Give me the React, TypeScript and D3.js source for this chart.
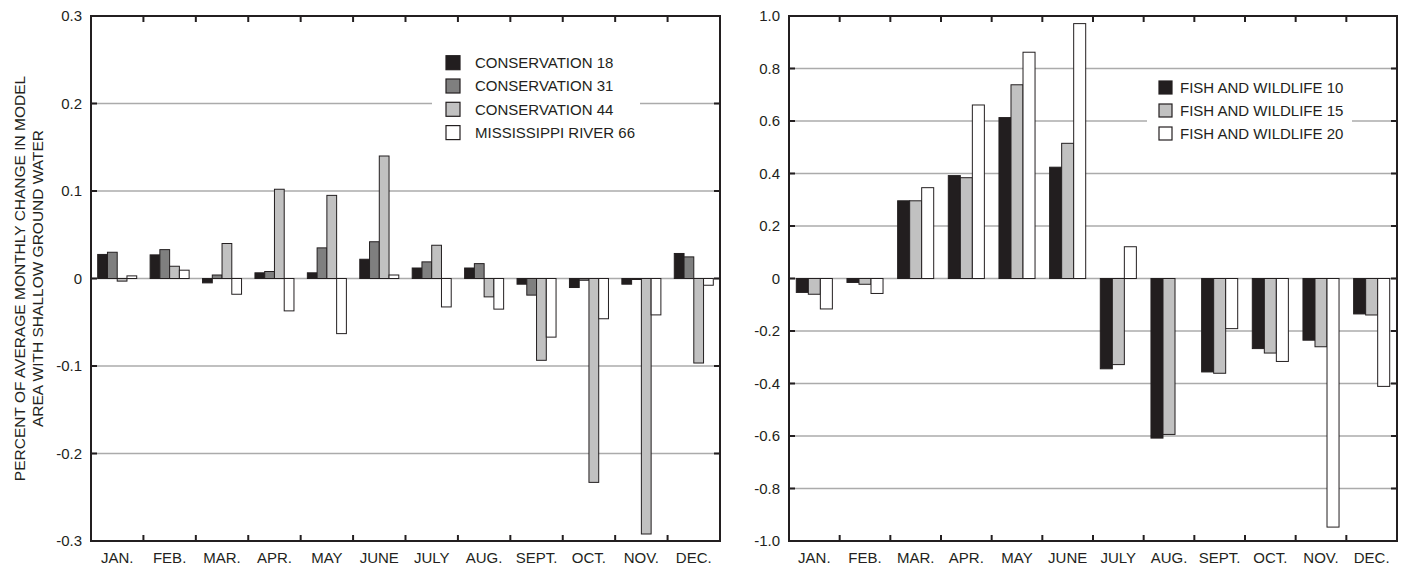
import React from 'react';
import * as d3 from 'd3';

// months shared by both panels
const months = ['JAN.', 'FEB.', 'MAR.', 'APR.', 'MAY', 'JUNE', 'JULY', 'AUG.', 'SEPT.', 'OCT.', 'NOV.', 'DEC.'];

// left panel series
const leftSeries = ['CONSERVATION 18', 'CONSERVATION 31', 'CONSERVATION 44', 'MISSISSIPPI RIVER 66'];
const conservation18 = [0.0275, 0.027, -0.005, 0.0065, 0.0065, 0.022, 0.012, 0.012, -0.0065, -0.0103, -0.0065, 0.0286];
const conservation31 = [0.030, 0.033, 0.004, 0.008, 0.035, 0.042, 0.019, 0.017, -0.019, -0.002, -0.001, 0.0247];
const conservation44 = [-0.003, 0.014, 0.040, 0.102, 0.095, 0.140, 0.038, -0.021, -0.0935, -0.233, -0.292, -0.0966];
const mississippi66 = [0.003, 0.0095, -0.018, -0.037, -0.063, 0.004, -0.0325, -0.035, -0.067, -0.046, -0.0416, -0.0077];
const leftTicks = [-0.3, -0.2, -0.1, 0, 0.1, 0.2, 0.3];

// right panel series
const rightSeries = ['FISH AND WILDLIFE 10', 'FISH AND WILDLIFE 15', 'FISH AND WILDLIFE 20'];
const fishWildlife10 = [-0.053, -0.015, 0.296, 0.392, 0.613, 0.424, -0.344, -0.608, -0.356, -0.267, -0.235, -0.135];
const fishWildlife15 = [-0.06, -0.022, 0.296, 0.384, 0.738, 0.515, -0.328, -0.594, -0.361, -0.284, -0.26, -0.139];
const fishWildlife20 = [-0.116, -0.057, 0.346, 0.661, 0.862, 0.971, 0.121, 0, -0.191, -0.316, -0.947, -0.411];
const rightTicks = [-1.0, -0.8, -0.6, -0.4, -0.2, 0, 0.2, 0.4, 0.6, 0.8, 1.0];

const INK = '#231f20';
const GRID = '#ababab';
const FONT = 'Liberation Sans, Arial, sans-serif';

// plain hyphen for negatives, like the original figure
const fmtTick = (v: number) => (v === 0 ? '0' : (v < 0 ? '-' : '') + Math.abs(v).toFixed(1));

type Panel = {
  x0: number; x1: number; y0: number; y1: number;
  domain: [number, number];
  ticks: number[];
  series: string[];
  values: number[][];
  colors: string[];
  pad: number;
  legend: { bx: number; by: number; bw: number; bh: number; sx: number; tx: number; y: number; step: number; size: number };
};

const BarPanel = ({ p }: { p: Panel }) => {
  const x = d3.scaleBand<string>().domain(months).range([p.x0, p.x1]).padding(0);
  const bw = x.bandwidth();
  const xs = d3.scaleBand<string>().domain(p.series).range([p.pad, bw - p.pad]).padding(0);
  const y = d3.scaleLinear().domain(p.domain).range([p.y1, p.y0]);
  const inner = p.ticks.filter(t => t !== p.domain[0] && t !== p.domain[1]);

  return (
    <g>
      {/* grid lines */}
      {inner.map(t => (
        <line key={'g' + t} x1={p.x0} x2={p.x1} y1={y(t)} y2={y(t)} stroke={GRID} strokeWidth={1.3} />
      ))}
      {/* legend background hides grid */}
      <rect x={p.legend.bx} y={p.legend.by} width={p.legend.bw} height={p.legend.bh} fill="#fff" />
      {/* bars */}
      {p.series.map((s, si) =>
        months.map((m, mi) => {
          const v = p.values[si][mi];
          if (v === 0) return null;
          const top = y(Math.max(0, v));
          const h = Math.abs(y(v) - y(0));
          return (
            <rect key={s + m} x={(x(m) as number) + (xs(s) as number)} y={top}
              width={xs.bandwidth()} height={Math.max(h, 1)}
              fill={p.colors[si]} stroke={INK} strokeWidth={1} />
          );
        })
      )}
      {/* frame */}
      <rect x={p.x0} y={p.y0} width={p.x1 - p.x0} height={p.y1 - p.y0} fill="none" stroke={INK} strokeWidth={2} />
      {/* x ticks top and bottom */}
      {months.slice(1).map(m => (
        <g key={'xt' + m}>
          <line x1={x(m)} x2={x(m)} y1={p.y0} y2={p.y0 + 6} stroke={INK} strokeWidth={2} />
          <line x1={x(m)} x2={x(m)} y1={p.y1} y2={p.y1 - 6} stroke={INK} strokeWidth={2} />
        </g>
      ))}
      {/* y ticks left and right */}
      {inner.map(t => (
        <g key={'yt' + t}>
          <line x1={p.x0} x2={p.x0 + 6} y1={y(t)} y2={y(t)} stroke={INK} strokeWidth={2} />
          <line x1={p.x1} x2={p.x1 - 6} y1={y(t)} y2={y(t)} stroke={INK} strokeWidth={2} />
        </g>
      ))}
      {/* y labels */}
      {p.ticks.map(t => (
        <text key={'yl' + t} x={p.x0 - 9} y={y(t)} dy="0.35em" textAnchor="end" fontSize={15} fill={INK}>
          {fmtTick(t)}
        </text>
      ))}
      {/* x labels */}
      {months.map(m => (
        <text key={'xl' + m} x={(x(m) as number) + bw / 2} y={p.y1 + 22} textAnchor="middle" fontSize={15} fill={INK}>
          {m}
        </text>
      ))}
      {/* legend */}
      {p.series.map((s, i) => {
        const cy = p.legend.y + i * p.legend.step;
        return (
          <g key={'lg' + s}>
            <rect x={p.legend.sx} y={cy - p.legend.size / 2} width={p.legend.size} height={p.legend.size}
              fill={p.colors[i]} stroke={INK} strokeWidth={1.2} />
            <text x={p.legend.tx} y={cy} dy="0.35em" fontSize={15} fill={INK}>{s}</text>
          </g>
        );
      })}
    </g>
  );
};

export default function App() {
  const left: Panel = {
    x0: 91, x1: 720, y0: 16, y1: 541,
    domain: [-0.3, 0.3], ticks: leftTicks,
    series: leftSeries,
    values: [conservation18, conservation31, conservation44, mississippi66],
    colors: ['#221e1f', '#7f7f7f', '#c1c1c1', '#ffffff'],
    pad: 6.7,
    legend: { bx: 432, by: 45, bw: 208, bh: 100, sx: 446, tx: 475, y: 62.7, step: 23.3, size: 14 },
  };
  const right: Panel = {
    x0: 789, x1: 1397, y0: 16, y1: 541,
    domain: [-1, 1], ticks: rightTicks,
    series: rightSeries,
    values: [fishWildlife10, fishWildlife15, fishWildlife20],
    colors: ['#221e1f', '#c1c1c1', '#ffffff'],
    pad: 7.3,
    legend: { bx: 1147, by: 76, bw: 205, bh: 70, sx: 1159, tx: 1180, y: 87.5, step: 23, size: 13 },
  };

  return (
    <div style={{ position: 'absolute', left: 0, top: 0 }}>
      <svg width={1406} height={567} style={{ display: 'block', fontFamily: FONT }}>
        <rect width={1406} height={567} fill="#fff" />
        <g transform="translate(28,278.5) rotate(-90)">
          <text textAnchor="middle" y={-3.5} fontSize={15.5} fill={INK}>PERCENT OF AVERAGE MONTHLY CHANGE IN MODEL</text>
          <text textAnchor="middle" y={15} fontSize={15.5} fill={INK}>AREA WITH SHALLOW GROUND WATER</text>
        </g>
        <BarPanel p={left} />
        <BarPanel p={right} />
      </svg>
    </div>
  );
}
